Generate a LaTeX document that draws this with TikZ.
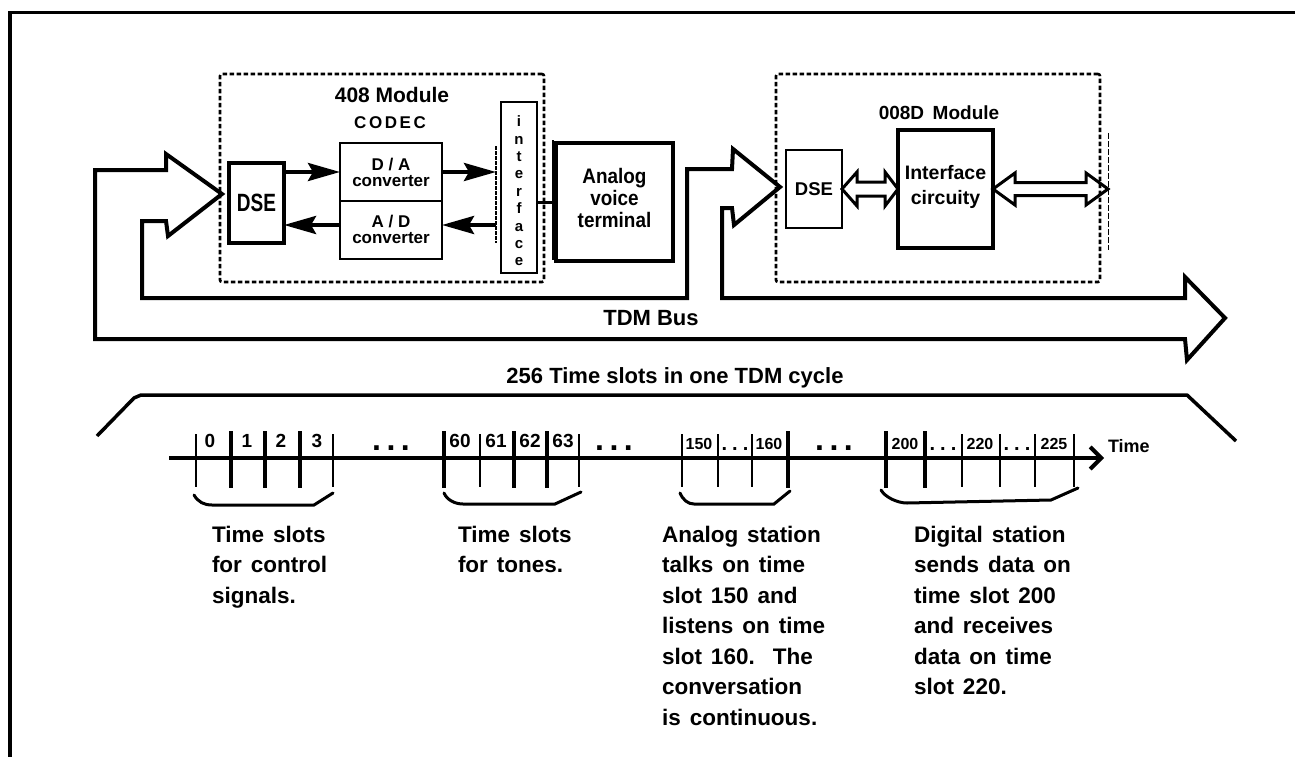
\documentclass[tikz,border=0pt]{standalone}
\usepackage{fontspec}
\setmainfont{Liberation Sans}
\newfontfamily\nineF{Liberation Sans}[FakeStretch=0.9]
\newfontfamily\dseF{Liberation Sans}[FakeStretch=0.76]
\newfontfamily\spcF{Liberation Sans}[LetterSpace=15]
\usetikzlibrary{arrows.meta,calc}
\newcommand\fsz[2]{\fontsize{#1}{#2}\selectfont}
\newcommand\descfont{\bfseries\fsz{22.5}{30.5}\spaceskip=0.4em\relax}
\begin{document}
\begin{tikzpicture}[x=1pt,y=-1pt,
  every node/.style={inner sep=0pt, outer sep=0pt, font=\bfseries},
  thickbox/.style={draw, line width=4.5pt},
  thinbox/.style={draw, line width=2pt},
  dashbox/.style={draw, line width=2.6pt, dash pattern=on 4.5pt off 2.5pt, rounded corners=2pt},
  fa/.style={line width=4pt, -{Stealth[length=32pt,width=18pt,inset=5pt]}},
  bus/.style={line width=4pt, line join=miter},
  dbl/.style={line width=3pt, line join=miter},
  tickn/.style={line width=2pt},
  tickb/.style={line width=4pt},
  brace/.style={line width=3pt, line cap=round},
  desc/.style={anchor=north west, align=left, font=\descfont},
  slot/.style={anchor=base, font=\bfseries\fsz{19}{19}},
  sslot/.style={anchor=base, font=\bfseries\fsz{16}{16}},
  bigdots/.style={anchor=base, font=\bfseries\fsz{32}{32}},
  smalldots/.style={anchor=base, font=\bfseries\fsz{20}{20}},
]
\useasboundingbox (0,0) rectangle (1295,757);

% frame
\draw[line width=3.5pt, line join=miter] (10,757) -- (10,12.5) -- (1295,12.5);

% module boxes
\node[dashbox, minimum width=324, minimum height=208] (m408) at (382,178) {};
\node[dashbox, minimum width=324, minimum height=208] (m008) at (938,178) {};

\node[font=\bfseries\fsz{21}{21}] (t408) at (392,95) {408 Module};
\node[font=\bfseries\spcF\fsz{17}{17}] (codec) at (390,123) {CODEC};

% 408 internals
\node[thickbox, minimum width=55, minimum height=80, font=\bfseries\dseF\fsz{25}{25}] (dse1) at (256.5,203) {DSE};
\node[thinbox, minimum width=102, minimum height=116] (conv) at (391,201) {};
\draw[line width=2pt] (conv.west) -- (conv.east);
\node[align=center, font=\bfseries\fsz{17}{16}] (da) at (391,172) {D / A\\converter};
\node[align=center, font=\bfseries\fsz{17}{16}] (ad) at (391,229) {A / D\\converter};

\node[draw, line width=2.5pt, minimum width=36, minimum height=171] (ifc) at (519,187.5) {};
\node[align=center, font=\bfseries\fsz{15}{17.4}] (ifl) at (519,191) {i\\n\\t\\e\\r\\f\\a\\c\\e};
\draw[line width=1.2pt, dash pattern=on 4pt off 1pt] (496,146) -- (496,243);
\coordinate (ibt) at (496,172);
\coordinate (ibb) at (496,225);

\draw[fa] (dse1.east |- ibt) -- (conv.west |- ibt);
\draw[fa] (conv.east |- ibt) -- (ibt);
\draw[fa] (conv.west |- ibb) -- (dse1.east |- ibb);
\draw[fa] (ibb) -- (conv.east |- ibb);

\node[thickbox, minimum width=117, minimum height=118] (avt) at (614.5,202) {};
\node[align=center, font=\bfseries\nineF\fsz{21}{21.7}] (avtl) at (614.5,198) {Analog\\voice\\terminal};
\draw[line width=1.2pt] (553,140) -- (553,260);
\draw[line width=3pt] (ifc.east |- avt) -- (avt.west);

% 008D internals
\node[font=\bfseries\fsz{19}{19}] (t008) at (939,113) {008D\hspace{0.45em}Module};
\node[thinbox, minimum width=56, minimum height=78, font=\bfseries\fsz{18.5}{18.5}] (dse2) at (814,189) {DSE};
\node[thickbox, minimum width=95, minimum height=118] (ic) at (945.5,189) {};
\node[align=center, font=\bfseries\fsz{19.5}{25}] (icl) at (945.5,187) {Interface\\circuity};
\draw[line width=1pt, dash pattern=on 6pt off 2pt] (1108,133) -- (1108,250);
\coordinate (r008) at (1108,189);

\draw[dbl] (dse2.east) -- ++(15,-17) -- ++(0,10) -- ($(ic.west)+(-13,-7)$) -- ++(0,-10) -- (ic.west)
  -- ++(-13,17) -- ++(0,-10) -- ($(dse2.east)+(15,7)$) -- ++(0,10) -- cycle;
\draw[dbl] (ic.east) -- ++(22,-16) -- ++(0,9.5) -- ($(r008)+(-22,-6.5)$) -- ++(0,-9.5) -- (r008)
  -- ++(-22,16) -- ++(0,-9.5) -- ($(ic.east)+(22,6.5)$) -- ++(0,9.5) -- cycle;

% TDM bus
\draw[bus] (1185,339) -- (95,339) -- (95,170) -- (166,170) -- (166,154) -- (222,194) -- (168,236)
  -- (166,221) -- (142,221) -- (142,298) -- (687,298) -- (687,169) -- (732,169) -- (733,149)
  -- (780,187) -- (734,225) -- (732,208) -- (722,208) -- (722,298) -- (1185,298) -- (1185,277)
  -- (1225,318) -- (1187,360) -- cycle;
\node[font=\bfseries\fsz{22}{22}] (tdm) at (651,318) {TDM Bus};

% time line
\node[font=\bfseries\fsz{22}{22}] (cyc) at (675,378) {256 Time slots in one TDM cycle};
\draw[line width=3.5pt, line join=round] (97,436) -- (134,398) -- (141,395) -- (1187,395) -- (1236,441);

\coordinate (ax0) at (169,458);
\coordinate (ax1) at (1104,458);
\draw[line width=4pt, -{Straight Barb[length=11pt,width=22pt]}] (ax0) -- (ax1);
\node[anchor=base west, font=\bfseries\fsz{18}{18}] (timel) at (1108,452) {Time};

\foreach \x in {231,265,300,444,514,547,788,886,925} \draw[tickb] (\x,431) -- (\x,488);
\foreach \x in {196,333,480,579,682,718,752,962,1000,1035,1074} \draw[tickn] (\x,434) -- (\x,487);

\node[slot] (s0) at (210,447) {0};
\node[slot] (s1) at (247,447) {1};
\node[slot] (s2) at (281,447) {2};
\node[slot] (s3) at (317,447) {3};
\node[bigdots] (dots1) at (391,450) {.\hspace{5.5pt}.\hspace{5.5pt}.};
\node[slot] (s60) at (460,447) {60};
\node[slot] (s61) at (496,447) {61};
\node[slot] (s62) at (530,447) {62};
\node[slot] (s63) at (563,447) {63};
\node[bigdots] (dots2) at (614,450) {.\hspace{5.5pt}.\hspace{5.5pt}.};
\node[sslot] (s150) at (699,449) {150};
\node[smalldots] (sd1) at (735,450) {.\hspace{5pt}.\hspace{5pt}.};
\node[sslot] (s160) at (769,449) {160};
\node[bigdots] (dots3) at (834,450) {.\hspace{5.5pt}.\hspace{5.5pt}.};
\node[sslot] (s200) at (905,449) {200};
\node[smalldots] (sd2) at (943,450) {.\hspace{5pt}.\hspace{5pt}.};
\node[sslot] (s220) at (980,449) {220};
\node[smalldots] (sd3) at (1017,450) {.\hspace{5pt}.\hspace{5pt}.};
\node[sslot] (s225) at (1054,449) {225};

\draw[brace] (194,495) .. controls (198,502) and (204,505) .. (212,505) -- (314,505) -- (333,493);
\draw[brace] (444,493) .. controls (447,500) and (455,504) .. (463,504) -- (555,504) -- (581,492);
\draw[brace] (680,493) .. controls (683,500) and (688,504) .. (694,504) -- (774,504) -- (790,491);
\draw[brace] (881,490) .. controls (885,497) and (897,503) .. (907,503) -- (1051,500) -- (1078,488);

\node[desc] (d1) at (212,526) {Time slots\\for control\\signals.};
\node[desc] (d2) at (458,526) {Time slots\\for tones.};
\node[desc] (d3) at (662,526) {Analog station\\talks on time\\slot 150 and\\listens on time\\slot 160.\ \ The\\conversation\\is continuous.};
\node[desc] (d4) at (914,526) {Digital station\\sends data on\\time slot 200\\and receives\\data on time\\slot 220.};
\end{tikzpicture}
\end{document}
